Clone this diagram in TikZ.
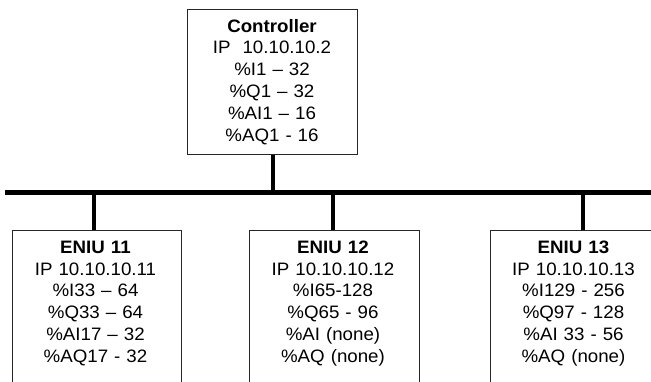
\documentclass[tikz,border=0pt]{standalone}
\usepackage{fontspec}
\setmainfont[FakeStretch=1.04]{Liberation Sans}
\begin{document}
\begin{tikzpicture}[x=1pt,y=-1pt,
  box/.style={draw=black!85, line width=1pt, inner sep=0pt, minimum width=170pt},
  info/.style={align=center, text width=165pt, inner sep=0pt, anchor=base,
    font=\fontsize{18}{21.8}\selectfont},
  busline/.style={line width=5pt, black},
  stem/.style={line width=4.6pt, black}]
\useasboundingbox (0,0) rectangle (651,381);
\clip (0,0) rectangle (651,381);
% boxes
\node[box, minimum height=145pt] (ctrl) at (272,81.5) {};
\node[box, minimum width=169pt, minimum height=200pt] (e11) at (96.5,330) {};
\node[box, minimum height=200pt] (e12) at (334,330) {};
\node[box, minimum width=167pt, minimum height=200pt] (e13) at (573.5,330) {};
% texts
\node[info] (tc) at (272,32) {\textbf{Controller}\\IP\ \ 10.10.10.2\\\%I1 – 32\\\%Q1 – 32\\\%AI1 – 16\\\%AQ1 - 16};
\node[info] (t11) at (95.5,253.3) {\textbf{ENIU 11}\\IP 10.10.10.11\\\%I33 – 64\\\%Q33 – 64\\\%AI17 – 32\\\%AQ17 - 32};
\node[info] (t12) at (333,253.3) {\textbf{ENIU 12}\\IP 10.10.10.12\\\%I65-128\\\%Q65 - 96\\\%AI (none)\\\%AQ (none)};
\node[info] (t13) at (573.5,253.3) {\textbf{ENIU 13}\\IP 10.10.10.13\\\%I129 - 256\\\%Q97 - 128\\\%AI 33 - 56\\\%AQ (none)};
% bus
\coordinate (busL) at (5,192.5);
\coordinate (busR) at (651,192.5);
\draw[busline] (busL) -- (busR);
% stems
\coordinate (sc) at (273,192.5);
\coordinate (s11) at (94,192.5);
\coordinate (s12) at (333,192.5);
\coordinate (s13) at (583,192.5);
\draw[stem] (sc) -- (sc |- ctrl.south);
\draw[stem] (s11) -- (s11 |- e11.north);
\draw[stem] (s12) -- (s12 |- e12.north);
\draw[stem] (s13) -- (s13 |- e13.north);
\end{tikzpicture}
\end{document}
